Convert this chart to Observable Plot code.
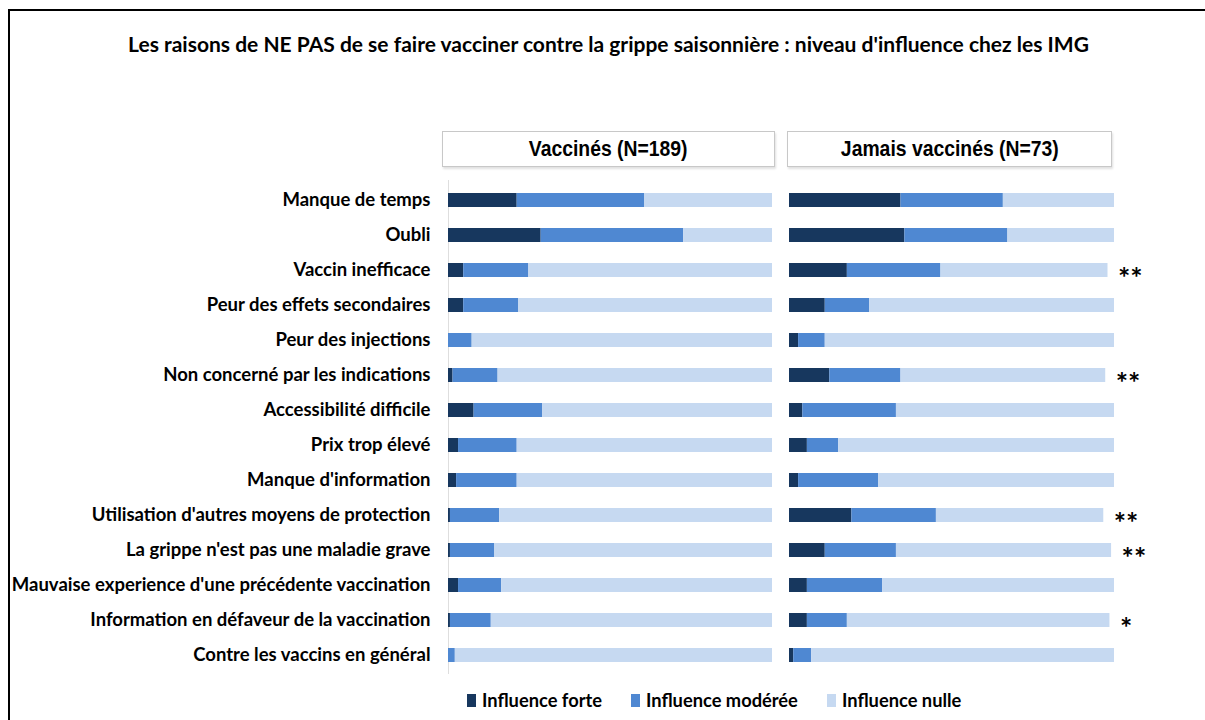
<!DOCTYPE html>
<html lang="fr">
<head>
<meta charset="utf-8">
<script src="https://cdn.jsdelivr.net/npm/d3@7"></script>
<script src="https://cdn.jsdelivr.net/npm/@observablehq/plot@0.6"></script>
<style>
  html, body { margin: 0; padding: 0; background: #fff; }
  #page { position: relative; width: 1205px; height: 720px; overflow: hidden; background: #fff; font-family: Lato, "Open Sans", sans-serif; }
  #borderTop { position: absolute; left: 8px; top: 9px; width: 1197px; height: 2px; background: #000; }
  #borderLeft { position: absolute; left: 8px; top: 9px; width: 2px; height: 711px; background: #000; }
  #title { position: absolute; left: 0; width: 1217px; top: 31px; text-align: center; font-weight: 700; font-size: 21px; color: #000; white-space: nowrap; }
  .hdr { position: absolute; top: 131px; height: 34px; border: 1px solid #c8c8c8; box-shadow: 1px 2px 2px rgba(0,0,0,0.12); background: #fff; display: flex; align-items: center; justify-content: center; color: #000; }
  .hdr span { display: inline-block; font-family: "Liberation Sans", Arial, sans-serif; font-weight: 700; font-size: 22px; transform: scaleX(0.88); white-space: nowrap; }
  .plot { position: absolute; top: 0; }
  #legend { position: absolute; top: 688px; left: 0; width: 1205px; height: 24px; font-weight: 700; font-size: 18.3px; color: #000; }
  .lg { position: absolute; top: 0; display: flex; align-items: center; height: 24px; white-space: nowrap; }
  .sw { display: inline-block; width: 9px; height: 13px; margin-right: 6px; }
</style>
</head>
<body>
<div id="page">
  <div id="borderTop"></div>
  <div id="borderLeft"></div>
  <div id="title"></div>
  <div id="hdr1" class="hdr" style="left:442px; width:331px;"><span></span></div>
  <div id="hdr2" class="hdr" style="left:787px; width:323px;"><span></span></div>
  <div id="plot1" class="plot" style="left:0px;"></div>
  <div id="plot2" class="plot" style="left:780px;"></div>
  <div id="legend"></div>
</div>
<script>
// ---- Data ----
const titleText = "Les raisons de NE PAS de se faire vacciner contre la grippe saisonnière : niveau d'influence chez les IMG";
const groups = ["Vaccinés (N=189)", "Jamais vaccinés (N=73)"];
const levels = ["Influence forte", "Influence modérée", "Influence nulle"];
const levelColors = ["#17375e", "#4f88d2", "#c6d9f1"];

const reasons = [
  "Manque de temps",
  "Oubli",
  "Vaccin inefficace",
  "Peur des effets secondaires",
  "Peur des injections",
  "Non concerné par les indications",
  "Accessibilité difficile",
  "Prix trop élevé",
  "Manque d'information",
  "Utilisation d'autres moyens de protection",
  "La grippe n'est pas une maladie grave",
  "Mauvaise experience d'une précédente vaccination",
  "Information en défaveur de la vaccination",
  "Contre les vaccins en général"
];

// Vaccinés (N=189), % of respondents
const vaccForte   = [21.2, 28.6, 4.7, 4.7, 0.0, 1.4, 7.9, 3.1, 2.5, 0.6, 0.6, 3.1, 0.6, 0.0];
const vaccModeree = [39.3, 44.0, 20.1, 17.0, 7.3, 13.9, 21.2, 18.1, 18.7, 15.2, 13.6, 13.3, 12.6, 2.1];
const vaccNulle   = [39.5, 27.4, 75.2, 78.3, 92.7, 84.7, 70.9, 78.8, 78.8, 84.2, 85.8, 83.6, 86.8, 97.9];

// Jamais vaccinés (N=73), % of respondents
const jamaisForte   = [34.3, 35.5, 17.8, 11.0, 2.8, 12.4, 4.1, 5.5, 2.8, 19.2, 11.0, 5.5, 5.5, 1.3];
const jamaisModeree = [31.5, 31.7, 28.8, 13.7, 8.2, 21.9, 28.8, 9.6, 24.6, 26.0, 21.9, 23.2, 12.3, 5.5];
const jamaisNulle   = [34.2, 32.8, 51.4, 75.3, 89.0, 63.0, 67.1, 84.9, 72.6, 51.5, 66.2, 71.3, 80.8, 93.2];

// significance markers (Jamais vs Vaccinés)
const significance = ["", "", "**", "", "", "**", "", "", "", "**", "**", "", "*", ""];

// ---- Build tables ----
function longTable(forte, moderee, nulle) {
  const rows = [];
  reasons.forEach((r, i) => {
    rows.push({reason: r, level: levels[0], value: forte[i]});
    rows.push({reason: r, level: levels[1], value: moderee[i]});
    rows.push({reason: r, level: levels[2], value: nulle[i]});
  });
  return rows;
}
const vaccData = longTable(vaccForte, vaccModeree, vaccNulle);
const jamaisData = longTable(jamaisForte, jamaisModeree, jamaisNulle);
const sigData = reasons.map((r, i) => ({
  reason: r,
  sig: significance[i],
  total: jamaisForte[i] + jamaisModeree[i] + jamaisNulle[i]
})).filter(d => d.sig !== "");

document.getElementById("title").textContent = titleText;
document.querySelector("#hdr1 span").textContent = groups[0];
document.querySelector("#hdr2 span").textContent = groups[1];

const H = 674;
const yScale = {domain: reasons, paddingInner: 0.6, paddingOuter: 0.3, align: 0.5};
const colorScale = {domain: levels, range: levelColors};
const baseStyle = {fontFamily: "Lato, 'Open Sans', sans-serif", fontSize: "18.5px", fontWeight: "700", color: "#000", background: "transparent", overflow: "visible"};

const p1 = Plot.plot({
  width: 780,
  height: H,
  marginLeft: 448,
  marginRight: 8,
  marginTop: 180,
  marginBottom: 0,
  style: baseStyle,
  x: {domain: [0, 100], axis: null},
  y: {...yScale, label: null, tickSize: 0, tickPadding: 18},
  color: colorScale,
  marks: [
    Plot.ruleX([0], {stroke: "#dedede", strokeWidth: 1}),
    Plot.barX(vaccData, Plot.stackX({x: "value", y: "reason", fill: "level", order: null})),
  ]
});
document.getElementById("plot1").appendChild(p1);

const p2 = Plot.plot({
  width: 425,
  height: H,
  marginLeft: 9,
  marginRight: 91,
  marginTop: 180,
  marginBottom: 0,
  style: baseStyle,
  x: {domain: [0, 100], axis: null},
  y: {...yScale, axis: null},
  color: colorScale,
  marks: [
    Plot.barX(jamaisData, Plot.stackX({x: "value", y: "reason", fill: "level", order: null})),
    Plot.text(sigData, {x: "total", y: "reason", text: "sig", textAnchor: "start", dx: 10, dy: 8, fontSize: 29, fontWeight: 700, fill: "#000"})
  ]
});
document.getElementById("plot2").appendChild(p2);

// ---- Legend ----
const legendPos = [467, 631, 827];
const legend = document.getElementById("legend");
levels.forEach((l, i) => {
  const item = document.createElement("div");
  item.className = "lg";
  item.style.left = legendPos[i] + "px";
  const sw = document.createElement("span");
  sw.className = "sw";
  sw.style.background = levelColors[i];
  item.appendChild(sw);
  item.appendChild(document.createTextNode(l));
  legend.appendChild(item);
});
</script>
</body>
</html>
